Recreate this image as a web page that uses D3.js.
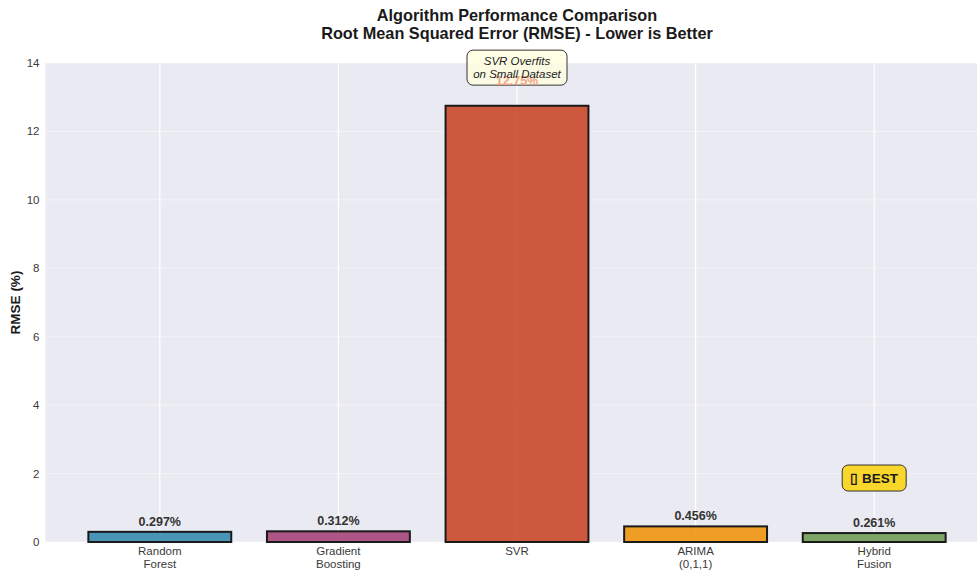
<!DOCTYPE html>
<html>
<head>
<meta charset="utf-8">
<script src="https://cdn.jsdelivr.net/npm/d3@7/dist/d3.min.js"></script>
<style>
  html, body { margin: 0; padding: 0; background: #ffffff; }
  svg { display: block; font-family: "Liberation Sans", Arial, Helvetica, sans-serif; }
</style>
</head>
<body>
<svg id="chart" width="977" height="571"></svg>
<script>
// Model names (two-line tick labels) and RMSE values in percent
const models = ["Random\nForest", "Gradient\nBoosting", "SVR", "ARIMA\n(0,1,1)", "Hybrid\nFusion"];
const rmse = [0.297, 0.312, 12.75, 0.456, 0.261];
const barColors = ["#2E86AB", "#A23B72", "#C73E1D", "#F18F01", "#6A994E"];
const yTicks = [0, 2, 4, 6, 8, 10, 12, 14];
const titleLines = ["Algorithm Performance Comparison", "Root Mean Squared Error (RMSE) - Lower is Better"];
const overfitNote = ["SVR Overfits", "on Small Dataset"];
const bestLabel = "\u25AF BEST";

const svg = d3.select("#chart");
const plot = { left: 45.5, right: 988.5, top: 63, bottom: 542 };

const x = d3.scaleLinear().domain([-0.64, 4.64]).range([plot.left, plot.right]);
const y = d3.scaleLinear().domain([0, 14]).range([plot.bottom, plot.top]);
const barW = x(0.8) - x(0);

// plot background
svg.append("rect")
  .attr("x", plot.left).attr("y", plot.top)
  .attr("width", plot.right - plot.left).attr("height", plot.bottom - plot.top)
  .attr("fill", "#EAEAF2");

// horizontal grid
svg.append("g").selectAll("line").data(yTicks).join("line")
  .attr("x1", plot.left).attr("x2", plot.right)
  .attr("y1", d => y(d)).attr("y2", d => y(d))
  .attr("stroke", "#ffffff").attr("stroke-opacity", 0.4).attr("stroke-width", 1);

// vertical grid at each model
svg.append("g").selectAll("line").data(models).join("line")
  .attr("x1", (d, i) => x(i)).attr("x2", (d, i) => x(i))
  .attr("y1", plot.top).attr("y2", plot.bottom)
  .attr("stroke", "#ffffff").attr("stroke-width", 1.2);

// bars
svg.append("g").selectAll("rect").data(rmse).join("rect")
  .attr("x", (d, i) => x(i) - barW / 2)
  .attr("y", d => y(d))
  .attr("width", barW)
  .attr("height", d => y(0) - y(d))
  .attr("fill", (d, i) => barColors[i])
  .attr("fill-opacity", 0.85)
  .attr("stroke", "#1a1a1a")
  .attr("stroke-width", 2);

// value labels above bars (the SVR one is drawn with the note below)
const labelY = v => y(v + 0.17 + 0.035 * v);
const fmt = d => d.toFixed(d >= 10 ? 2 : 3) + "%";
svg.append("g").selectAll("text").data(rmse.map((v, i) => ({ v, i })).filter(d => d.i !== 2)).join("text")
  .attr("x", d => x(d.i))
  .attr("y", d => labelY(d.v))
  .attr("text-anchor", "middle")
  .attr("font-size", 12.5)
  .attr("font-weight", "bold")
  .attr("fill", "#333333")
  .text(d => fmt(d.v));

// overfitting note on the SVR bar
const noteCy = y(13.85);
svg.append("rect")
  .attr("x", x(2) - 50).attr("y", noteCy - 18)
  .attr("width", 100).attr("height", 35)
  .attr("rx", 6).attr("ry", 6)
  .attr("fill", "#ffffe0").attr("fill-opacity", 0.8)
  .attr("stroke", "#333333").attr("stroke-width", 1);
// SVR value, faded beneath the note text
svg.append("text")
  .attr("x", x(2)).attr("y", labelY(rmse[2]))
  .attr("text-anchor", "middle").attr("font-size", 12.5).attr("font-weight", "bold")
  .attr("fill", "#f2a487")
  .text(fmt(rmse[2]));
svg.append("g").selectAll("text").data(overfitNote).join("text")
  .attr("x", x(2))
  .attr("y", (d, i) => noteCy - 3 + i * 13)
  .attr("text-anchor", "middle")
  .attr("font-size", 11.5)
  .attr("font-style", "italic")
  .attr("fill", "#222222")
  .text(d => d);

// best-model badge over the hybrid bar
const bestCy = y(1.87);
svg.append("rect")
  .attr("x", x(4) - 32).attr("y", bestCy - 13)
  .attr("width", 64).attr("height", 26)
  .attr("rx", 6).attr("ry", 6)
  .attr("fill", "#f8d62b")
  .attr("stroke", "#333333").attr("stroke-width", 1);
svg.append("text")
  .attr("x", x(4)).attr("y", bestCy + 5)
  .attr("text-anchor", "middle")
  .attr("font-size", 13.5).attr("font-weight", "bold")
  .attr("fill", "#1a1a1a")
  .text(bestLabel);

// y axis tick labels
svg.append("g").selectAll("text").data(yTicks).join("text")
  .attr("x", plot.left - 6)
  .attr("y", d => y(d) + 4)
  .attr("text-anchor", "end")
  .attr("font-size", 11.5)
  .attr("fill", "#3a3a3a")
  .text(d => d);

// y axis title
svg.append("text")
  .attr("transform", `translate(20,${(plot.top + plot.bottom) / 2}) rotate(-90)`)
  .attr("text-anchor", "middle")
  .attr("font-size", 13.5).attr("font-weight", "bold")
  .attr("fill", "#1a1a1a")
  .text("RMSE (%)");

// x axis tick labels (two lines)
const xl = svg.append("g").selectAll("text").data(models).join("text")
  .attr("x", (d, i) => x(i))
  .attr("y", plot.bottom + 13)
  .attr("text-anchor", "middle")
  .attr("font-size", 11.5)
  .attr("fill", "#3a3a3a");
xl.selectAll("tspan").data(d => d.split("\n")).join("tspan")
  .attr("x", function () { return d3.select(this.parentNode).attr("x"); })
  .attr("dy", (d, i) => i === 0 ? 0 : 13)
  .text(d => d);

// title
svg.append("g").selectAll("text").data(titleLines).join("text")
  .attr("x", (plot.left + plot.right) / 2)
  .attr("y", (d, i) => 21 + i * 17.5)
  .attr("text-anchor", "middle")
  .attr("font-size", 16.3).attr("font-weight", "bold")
  .attr("fill", "#1a1a1a")
  .text(d => d);
</script>
</body>
</html>
